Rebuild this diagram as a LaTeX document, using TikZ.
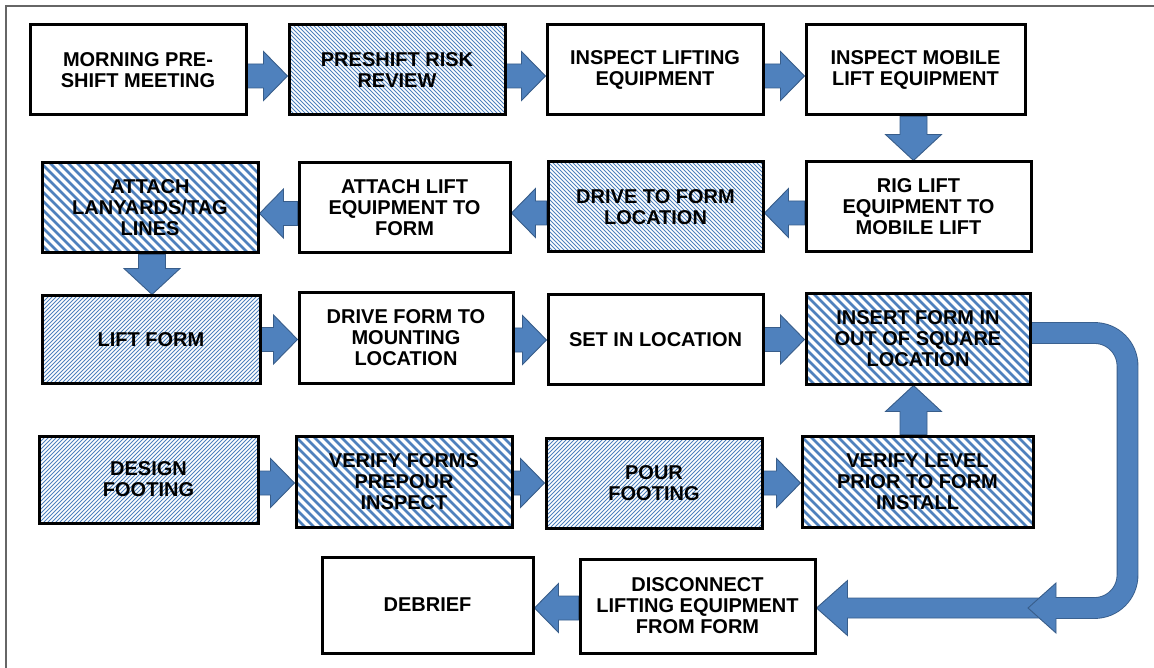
\documentclass[tikz,border=0pt]{standalone}
\usepackage{fontspec}
\setmainfont{Liberation Sans}
\usepackage{tikz}
\usetikzlibrary{calc}
\definecolor{arrowfill}{RGB}{79,129,189}
\definecolor{arrowedge}{RGB}{56,93,138}
\definecolor{hatchblue}{RGB}{79,129,189}
\pgfdeclarelayer{background}
\pgfsetlayers{background,main}
\tikzset{
  flowbox/.style={
    rectangle, draw=black, line width=3pt, minimum width=216pt, minimum height=90pt,
    inner sep=0pt, align=center, font=\bfseries\fontsize{20}{21}\selectfont
  },
  plainbox/.style={flowbox, fill=white},
  finebox/.style={flowbox, path picture={
      \foreach \k in {0,...,90}
        \draw[hatchblue, line width=0.9pt] ($(path picture bounding box.north west)+(\k*4-100,0)$) -- ++(100,100);}},
  widebox/.style={flowbox, path picture={
      \foreach \k in {0,...,40}
        \draw[hatchblue, line width=2.6pt] ($(path picture bounding box.north west)+(\k*9-100,0)$) -- ++(100,100);}},
  risebox/.style={flowbox, path picture={
      \foreach \k in {0,...,90}
        \draw[hatchblue, line width=0.9pt] ($(path picture bounding box.south west)+(\k*4-100,0)$) -- ++(100,-100);}},
  blockarrow/.style args={#1/#2/#3}{
    draw=arrowedge, fill=arrowfill, line width=0.9pt, line join=miter,
    to path={let \p1=($(\tikztotarget)!#3!(\tikztostart)$) in
      ($(\tikztostart)!#1!90:(\tikztotarget)$) -- ($(\p1)!#1!90:(\tikztotarget)$)
      -- ($(\p1)!#2!90:(\tikztotarget)$) -- (\tikztotarget)
      -- ($(\p1)!#2!-90:(\tikztotarget)$) -- ($(\p1)!#1!-90:(\tikztotarget)$)
      -- ($(\tikztostart)!#1!-90:(\tikztotarget)$) -- cycle}
  },
  blockarrow/.default={12pt/24.5pt/24pt},
  vblock/.style={blockarrow={13.5pt/28pt/26pt}},
  uedge/.style={draw=arrowedge, line width=21.8pt, rounded corners=33pt},
  ufill/.style={draw=arrowfill, line width=20pt, rounded corners=33pt},
  outerframe/.style={draw=black!60, line width=2pt}
}

\begin{document}
\begin{tikzpicture}[x=1pt, y=-1pt]
  \useasboundingbox (0,0) rectangle (1154,668);
  \draw[outerframe] (6,668) -- (6,6) -- (1154,6);

  % row 1
  \node[plainbox] (meet) at (138,70) {MORNING PRE-\\SHIFT MEETING};
  \node[finebox] (risk) at (397,70) {PRESHIFT RISK\\REVIEW};
  \node[plainbox] (insplift) at (655,70) {INSPECT LIFTING\\EQUIPMENT};
  \node[plainbox, minimum width=219pt] (inspmob) at (915.5,70) {INSPECT MOBILE\\LIFT EQUIPMENT};
  % row 2
  \node[widebox] (lanyard) at (150,208) {ATTACH\\LANYARDS/TAG\\LINES};
  \node[plainbox, minimum width=211pt] (attach) at (404.5,207.5) {ATTACH LIFT\\EQUIPMENT TO\\FORM};
  \node[finebox, minimum width=215pt] (drive) at (655.5,207) {DRIVE TO FORM\\LOCATION};
  \node[plainbox, minimum width=225pt] (rig) at (918.5,207) {RIG LIFT\\EQUIPMENT TO\\MOBILE LIFT};
  % row 3
  \node[risebox, minimum width=218pt, minimum height=87pt] (lift) at (151,339.5) {LIFT FORM};
  \node[plainbox, minimum width=214pt] (mount) at (406,338) {DRIVE FORM TO\\MOUNTING\\LOCATION};
  \node[plainbox, minimum width=215pt, minimum height=89pt] (set) at (655.5,339.5) {SET IN LOCATION};
  \node[widebox, minimum width=224pt] (insert) at (918,339) {INSERT FORM IN\\OUT OF SQUARE\\LOCATION};
  % row 4
  \node[risebox, minimum width=219pt, minimum height=87pt] (design) at (148.5,479.5) {DESIGN\\FOOTING};
  \node[widebox, minimum height=91pt] (verify) at (404,481.5) {VERIFY FORMS\\PREPOUR\\INSPECT};
  \node[risebox] (pour) at (654,483) {POUR\\FOOTING};
  \node[widebox, minimum width=231pt, minimum height=91pt] (level) at (917.5,481.5) {VERIFY LEVEL\\PRIOR TO FORM\\INSTALL};
  % row 5
  \node[plainbox, minimum width=211pt, minimum height=96pt] (debrief) at (427.5,605) {DEBRIEF};
  \node[plainbox, minimum width=235pt, minimum height=94pt] (disc) at (697.5,606) {DISCONNECT\\LIFTING EQUIPMENT\\FROM FORM};

  \coordinate (ubase) at (1056,608);
  \coordinate (utip) at (1028,608);
  \coordinate (ltail) at (1045,608);

  \begin{pgfonlayer}{background}
    \path[blockarrow] ([yshift=-6pt]meet.east) to ([yshift=-6pt]meet.east -| risk.west);
    \path[blockarrow] ([yshift=-6pt]risk.east) to ([yshift=-6pt]risk.east -| insplift.west);
    \path[blockarrow] ([yshift=-6pt]insplift.east) to ([yshift=-6pt]insplift.east -| inspmob.west);
    \path[vblock] ([xshift=-2pt]inspmob.south) to ([xshift=-2pt]inspmob.south |- rig.north);
    \path[blockarrow] ([yshift=-6pt]rig.west) to ([yshift=-6pt]rig.west -| drive.east);
    \path[blockarrow] ([yshift=-6pt]drive.west) to ([yshift=-6pt]drive.west -| attach.east);
    \path[blockarrow] ([yshift=-6pt]attach.west) to ([yshift=-6pt]attach.west -| lanyard.east);
    \path[vblock] ([xshift=2pt]lanyard.south) to ([xshift=2pt]lanyard.south |- lift.north);
    \path[blockarrow] (lift.east) to (lift.east -| mount.west);
    \path[blockarrow] ([yshift=-2pt]mount.east) to ([yshift=-2pt]mount.east -| set.west);
    \path[blockarrow] (set.east) to (set.east -| insert.west);
    \path[blockarrow] ([yshift=-3.5pt]design.east) to ([yshift=-3.5pt]design.east -| verify.west);
    \path[blockarrow] ([yshift=-1.5pt]verify.east) to ([yshift=-1.5pt]verify.east -| pour.west);
    \path[blockarrow] (pour.east) to (pour.east -| level.west);
    \path[vblock] ([xshift=-4pt]level.north) to ([xshift=-4pt]level.north |- insert.south);
    \path[blockarrow] ([yshift=-2pt]disc.west) to ([yshift=-2pt]disc.west -| debrief.east);
    % return loop
    \path[blockarrow={10pt/27.5pt/31pt}] (ltail) to (ltail -| disc.east);
    \draw[uedge] ([yshift=6pt]insert.east) -- ++(96,0) -- ++(0,275) -- (ubase);
    \path[blockarrow={10pt/25pt/28pt}] (ubase) to (utip);
    \draw[ufill] ([yshift=6pt]insert.east) -- ++(96,0) -- ++(0,275) -- ([xshift=-1.5pt]ubase);
  \end{pgfonlayer}
\end{tikzpicture}
\end{document}
